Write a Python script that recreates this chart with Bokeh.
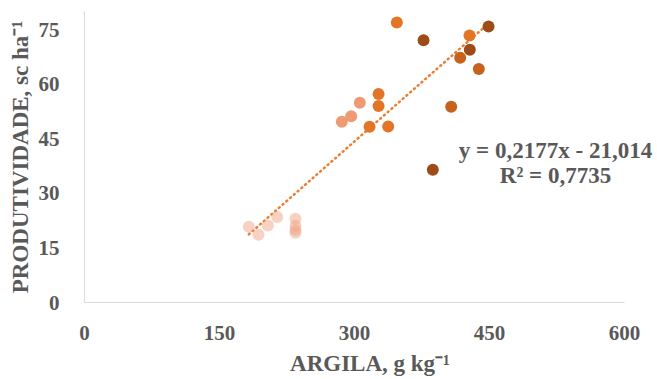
from bokeh.plotting import figure
from bokeh.models import ColumnDataSource, Range1d, FixedTicker, Label
from bokeh.embed import file_html
from bokeh.resources import INLINE

# ---- data ----
argila = [182.6, 193.3, 203.7, 214.1, 234.4, 234.4, 234.4, 234.4,
          285.9, 296.3, 305.9,
          316.7, 326.7, 326.7, 337.4, 347.0, 427.8,
          407.4, 417.4, 438.1,
          376.7, 387.0, 428.1, 448.9]
produtividade = [20.8, 18.6, 21.2, 23.5, 23.0, 21.0, 19.9, 19.2,
                 49.7, 51.2, 54.9,
                 48.3, 54.0, 57.3, 48.4, 77.0, 73.4,
                 53.8, 67.3, 64.2,
                 72.1, 36.5, 69.5, 75.9]
classe = ["c1"] * 8 + ["c2"] * 3 + ["c3"] * 6 + ["c4"] * 3 + ["c5"] * 4
x_ticks = [0, 150, 300, 450, 600]
y_ticks = [0, 15, 30, 45, 60, 75]
slope = 0.2177
intercept = -21.014
r2_text = "R² = 0,7735"
eq_text = "y = 0,2177x - 21,014"

# ---- styles ----
palette = {"c1": "#F0A383", "c2": "#EE9A72", "c3": "#E27626",
           "c4": "#C4621E", "c5": "#9E4C17"}
alphas = {"c1": 0.5, "c2": 1.0, "c3": 1.0, "c4": 1.0, "c5": 1.0}
FONT = "Liberation Serif"
TXT = "#595959"
FS_TICK = "21px"
FS_TITLE = "23px"

src = ColumnDataSource(dict(
    x=argila, y=produtividade,
    color=[palette[c] for c in classe],
    alpha=[alphas[c] for c in classe],
))

# frame extends a little past 600 so the equation text is not clipped;
# the axis line itself stops at 600 via bounds
p = figure(width=656, height=378, output_backend="svg", toolbar_location=None,
           x_range=Range1d(0, 634.4), y_range=Range1d(0, 80),
           min_border_left=84, min_border_right=1,
           min_border_top=11, min_border_bottom=76)
p.outline_line_color = None
p.grid.visible = False
p.background_fill_color = "white"

# trendline
xmin, xmax = min(argila), max(argila)
p.line([xmin, xmax], [slope * xmin + intercept, slope * xmax + intercept],
       line_color="#ED7D31", line_width=2.5, line_dash="1 4", line_cap="round")

p.scatter("x", "y", source=src, size=12, fill_color="color", fill_alpha="alpha",
          line_color=None)

for ax in (p.xaxis[0], p.yaxis[0]):
    ax.axis_line_color = "#D9D9D9"
    ax.axis_line_width = 1
    ax.major_tick_line_color = None
    ax.minor_tick_line_color = None
    ax.major_label_text_font = FONT
    ax.major_label_text_font_style = "bold"
    ax.major_label_text_font_size = FS_TICK
    ax.major_label_text_color = TXT
    ax.axis_label_text_font = FONT
    ax.axis_label_text_font_style = "bold"
    ax.axis_label_text_font_size = FS_TITLE
    ax.axis_label_text_color = TXT

p.xaxis.bounds = (0, 600)
p.yaxis.bounds = (0, 80)
p.xaxis.ticker = FixedTicker(ticks=x_ticks)
p.yaxis.ticker = FixedTicker(ticks=y_ticks)
p.xaxis.axis_label = "ARGILA, g kg⁻¹"
p.yaxis.axis_label = "PRODUTIVIDADE, sc ha⁻¹"
p.xaxis.major_label_standoff = 17
p.yaxis.major_label_standoff = 19
p.xaxis.axis_label_standoff = 8
p.yaxis.axis_label_standoff = 3

for txt, yy in ((eq_text, 41.9), (r2_text, 34.9)):
    p.add_layout(Label(x=523.3, y=yy, text=txt, text_font=FONT,
                       text_font_style="bold", text_font_size=FS_TITLE,
                       text_color=TXT, text_align="center",
                       text_baseline="middle"))

open("out.html", "w").write(file_html(p, INLINE))
